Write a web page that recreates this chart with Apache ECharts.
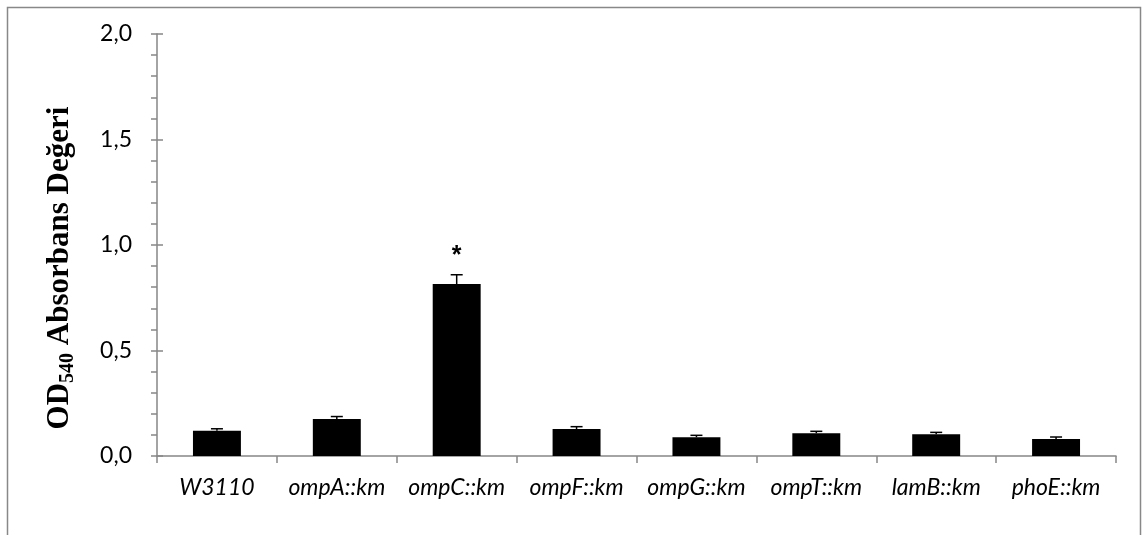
<!DOCTYPE html>
<html lang="tr">
<head>
<meta charset="utf-8" />
<title>OD540 Absorbans</title>
<style>
  html, body { margin: 0; padding: 0; background: #fff; }
  #chart { width: 1143px; height: 535px; }
</style>
</head>
<body>
<div id="chart"></div>
<script src="https://cdn.jsdelivr.net/npm/echarts@6/dist/echarts.min.js"></script>
<script>
// suşlar (x ekseni)
var strains = ['W3110', 'ompA::km', 'ompC::km', 'ompF::km', 'ompG::km', 'ompT::km', 'lamB::km', 'phoE::km'];
// ortalama OD540 değerleri
var meanOD = [0.12, 0.175, 0.815, 0.128, 0.089, 0.108, 0.103, 0.081];
// standart hata (sadece üst kısmı görünüyor)
var errOD = [0.009, 0.012, 0.044, 0.011, 0.009, 0.009, 0.009, 0.009];
// anlamlılık işareti
var signif = ['', '', '*', '', '', '', '', ''];
var yTicks = [0, 0.5, 1, 1.5, 2];

var chart = echarts.init(document.getElementById('chart'));
var axisGrey = '#868686';

var option = {
  backgroundColor: '#fff',
  animation: false,
  grid: { left: 157, right: 27, top: 34, bottom: 79 },
  graphic: [
    { // dış çerçeve
      type: 'rect', z: -1,
      shape: { x: 7.5, y: 7.5, width: 1133, height: 600 },
      style: { fill: 'none', stroke: '#888', lineWidth: 1.5 }
    },
    { // y ekseni başlığı
      type: 'text',
      x: 60, y: 268,
      rotation: Math.PI / 2,
      style: {
        text: '{m|OD}{s|540}{m| Absorbans Değeri}',
        align: 'center', verticalAlign: 'middle',
        rich: {
          m: { fontFamily: 'Liberation Serif', fontWeight: 'bold', fontSize: 31, lineHeight: 36, fill: '#000' },
          s: { fontFamily: 'Liberation Serif', fontWeight: 'bold', fontSize: 20, lineHeight: 16, verticalAlign: 'bottom', fill: '#000' }
        }
      }
    }
  ],
  xAxis: {
    type: 'category',
    data: strains,
    axisLine: { lineStyle: { color: axisGrey, width: 1.5 } },
    axisTick: { show: true, length: 7, lineStyle: { color: axisGrey, width: 1.5 } },
    axisLabel: {
      color: '#000', fontFamily: 'Lato', fontStyle: 'italic', fontSize: 23,
      margin: 20, interval: 0
    },
    splitLine: { show: false }
  },
  yAxis: [
    {
      type: 'value',
      min: yTicks[0], max: yTicks[yTicks.length - 1], interval: 0.5,
      axisLine: { show: true, lineStyle: { color: axisGrey, width: 1.5 } },
      axisTick: { show: true, length: 6, lineStyle: { color: axisGrey, width: 1.5 } },
      minorTick: { show: true, splitNumber: 5, length: 6, lineStyle: { color: axisGrey, width: 1.5 } },
      axisLabel: {
        color: '#000', fontFamily: 'Lato', fontSize: 23, margin: 25,
        formatter: function (v) { return v.toFixed(1).replace('.', ','); }
      },
      splitLine: { show: false }
    },
    { // büyük çentiklerin iç kısmı
      type: 'value', position: 'left',
      min: 0, max: 2, interval: 0.5,
      axisLine: { show: false },
      axisTick: { show: true, inside: true, length: 6, lineStyle: { color: axisGrey, width: 1.5 } },
      axisLabel: { show: false },
      splitLine: { show: false }
    }
  ],
  series: [
    {
      type: 'bar',
      data: meanOD,
      barWidth: '40%',
      itemStyle: { color: '#000' }
    },
    {
      type: 'custom',
      z: 3,
      data: meanOD.map(function (v, i) { return [i, v, errOD[i]]; }),
      renderItem: function (params, api) {
        var i = api.value(0), v = api.value(1), e = api.value(2);
        var p0 = api.coord([i, v]);
        var p1 = api.coord([i, v + e]);
        var kids = [
          { type: 'line', shape: { x1: p0[0], y1: p0[1], x2: p1[0], y2: p1[1] },
            style: { stroke: '#000', lineWidth: 1.5 } },
          { type: 'line', shape: { x1: p1[0] - 6, y1: p1[1], x2: p1[0] + 6, y2: p1[1] },
            style: { stroke: '#000', lineWidth: 1.5 } }
        ];
        if (signif[params.dataIndex]) {
          kids.push({
            type: 'text',
            x: p1[0], y: p1[1] - 6,
            style: {
              text: signif[params.dataIndex], fill: '#000',
              fontFamily: 'Liberation Sans', fontWeight: 'bold', fontSize: 25,
              align: 'center', verticalAlign: 'bottom'
            }
          });
        }
        return { type: 'group', children: kids };
      }
    }
  ]
};

chart.setOption(option);
</script>
</body>
</html>
